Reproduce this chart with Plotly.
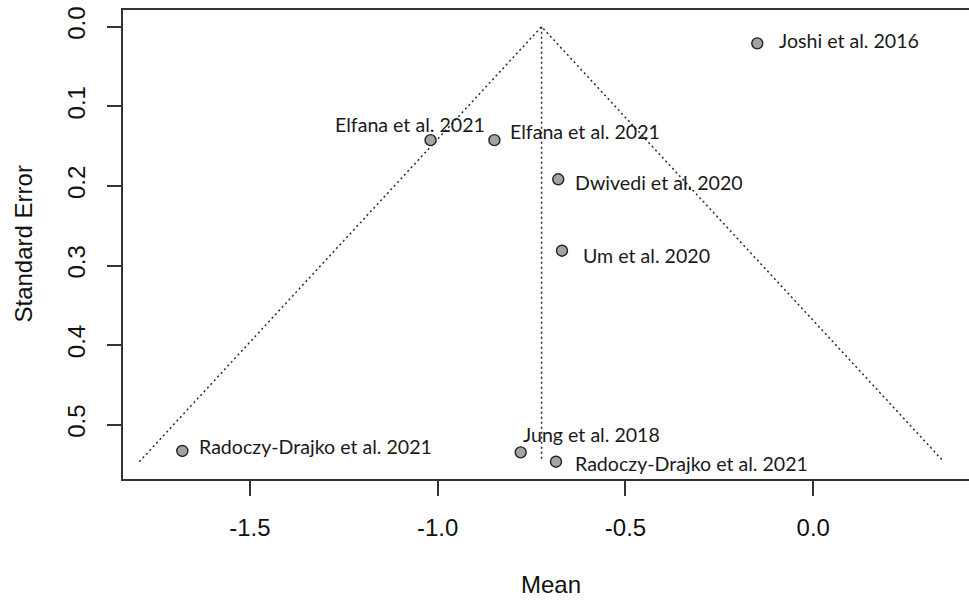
import plotly.graph_objects as go

# Study estimates (mean difference) and their standard errors
studies = [
    "Joshi et al. 2016",
    "Elfana et al. 2021",
    "Elfana et al. 2021",
    "Dwivedi et al. 2020",
    "Um et al. 2020",
    "Radoczy-Drajko et al. 2021",
    "Jung et al. 2018",
    "Radoczy-Drajko et al. 2021",
]
means = [-0.149, -1.019, -0.849, -0.679, -0.669, -1.680, -0.779, -0.685]
std_errors = [0.0209, 0.1425, 0.1425, 0.1917, 0.2814, 0.5330, 0.5347, 0.5465]

pooled_mean = -0.7234
z_crit = 1.96

x_ticks = [-1.5, -1.0, -0.5, 0.0]
x_tick_text = ["-1.5", "-1.0", "-0.5", "0.0"]
y_ticks = [0.0, 0.1, 0.2, 0.3, 0.4, 0.5]
y_tick_text = ["0.0", "0.1", "0.2", "0.3", "0.4", "0.5"]

# label placement relative to each point: (anchor, x shift px, y shift px)
label_offsets = [
    ("left", 20, 3),
    ("center", -21, 16),
    ("left", 14, 9),
    ("left", 15, -3),
    ("left", 19, -5),
    ("left", 15, 4),
    ("left", 0, 18),
    ("left", 17, -2),
]

W, H = 969, 601
ML, MR, MT, MB = 123, 0, 10, 122

max_se = max(std_errors)
dot = "2px,3px"
line_col = "#333333"

fig = go.Figure()

# funnel: pseudo confidence limits and centre line
fig.add_trace(go.Scatter(
    x=[pooled_mean - z_crit * max_se, pooled_mean, pooled_mean + z_crit * max_se],
    y=[max_se, 0.0, max_se],
    mode="lines", line=dict(color="#2a2a2a", width=1.5, dash=dot),
    hoverinfo="skip", showlegend=False,
))
fig.add_trace(go.Scatter(
    x=[pooled_mean, pooled_mean], y=[0.0, max_se],
    mode="lines", line=dict(color="#2a2a2a", width=1.5, dash=dot),
    hoverinfo="skip", showlegend=False,
))

# study points
fig.add_trace(go.Scatter(
    x=means, y=std_errors, mode="markers",
    marker=dict(size=11, color="#a3a3a3", line=dict(color="#222222", width=1.4)),
    text=studies, showlegend=False,
))

label_font = dict(family="Lato, Open Sans, sans-serif", size=19.6, color="#1a1a1a")
for name, m, se, (anchor, dx, dy) in zip(studies, means, std_errors, label_offsets):
    fig.add_annotation(
        x=m, y=se, xref="x", yref="y", text=name, showarrow=False,
        xanchor=anchor, yanchor="middle", xshift=dx, yshift=dy,
        font=label_font,
    )

axis_font = dict(family="Liberation Sans, Arial, sans-serif", size=24, color="#111111")

fig.add_annotation(
    text="Mean", xref="paper", yref="paper",
    x=(551 - ML) / (W - ML - MR), y=-(584 - (H - MB)) / (H - MT - MB),
    showarrow=False, xanchor="center", yanchor="middle", font=axis_font,
)
fig.add_annotation(
    text="Standard Error", xref="paper", yref="paper",
    x=-(ML - 23) / (W - ML - MR), y=0.5, textangle=-90,
    showarrow=False, xanchor="center", yanchor="middle", font=axis_font,
)

fig.update_layout(
    width=W, height=H,
    margin=dict(l=ML, r=MR, t=MT, b=MB, pad=0),
    plot_bgcolor="white", paper_bgcolor="white",
    font=axis_font,
    xaxis=dict(
        range=[-1.838, 0.4148], tickvals=x_ticks, ticktext=x_tick_text,
        showgrid=False, zeroline=False,
        showline=True, linecolor=line_col, linewidth=1.6, mirror=True,
        ticks="outside", ticklen=15, tickwidth=1.5, tickcolor=line_col,
        ticklabelstandoff=11, tickfont=axis_font,
    ),
    yaxis=dict(
        range=[0.5682, -0.021], tickvals=y_ticks, ticktext=y_tick_text,
        showgrid=False, zeroline=False,
        showline=True, linecolor=line_col, linewidth=1.6,
        ticks="outside", ticklen=14, tickwidth=1.5, tickcolor=line_col,
        tickangle=-90, ticklabelstandoff=13, tickfont=axis_font,
    ),
)

fig.write_html("out.html")
